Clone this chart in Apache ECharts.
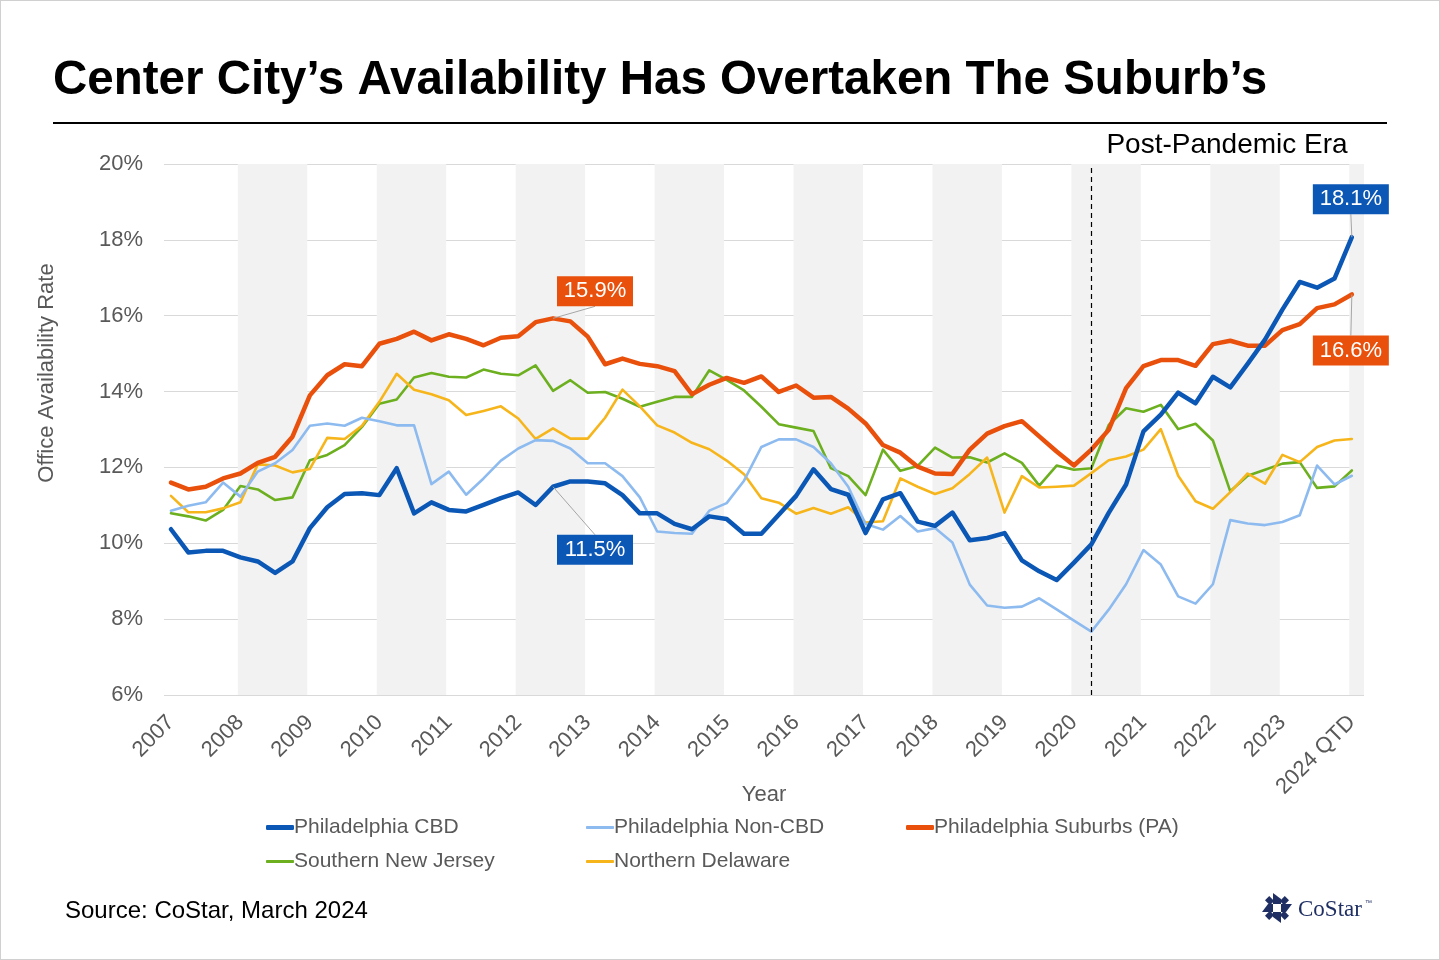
<!DOCTYPE html>
<html>
<head>
<meta charset="utf-8">
<script src="https://cdn.jsdelivr.net/npm/echarts@6/dist/echarts.min.js"></script>
<style>
html,body{margin:0;padding:0;background:#fff;}
#c{width:1440px;height:960px;box-sizing:border-box;border:1px solid #d0d0d0;}
</style>
</head>
<body>
<div id="c"></div>
<script>
// ---- Tick labels (one per year, quarterly data underneath) ----
const yearLabels = ['2007','2008','2009','2010','2011','2012','2013','2014','2015','2016','2017','2018','2019','2020','2021','2022','2023','2024 QTD'];

// ---- Series (quarterly, 2007 Q1 .. 2024 Q1), % ----
const phillyCBD = [10.37,9.76,9.80,9.80,9.63,9.52,9.22,9.52,10.40,10.95,11.30,11.32,11.27,11.98,10.79,11.08,10.88,10.84,11.01,11.19,11.34,11.01,11.49,11.63,11.63,11.58,11.27,10.79,10.79,10.51,10.37,10.71,10.64,10.25,10.25,10.75,11.25,11.95,11.43,11.28,10.27,11.16,11.32,10.57,10.46,10.81,10.08,10.14,10.27,9.55,9.26,9.03,9.49,9.97,10.80,11.55,12.95,13.39,13.97,13.69,14.39,14.11,14.73,15.37,16.16,16.89,16.74,16.98,18.07];
const phillyNonCBD = [10.86,10.99,11.08,11.60,11.23,11.89,12.11,12.46,13.10,13.16,13.10,13.31,13.22,13.11,13.11,11.56,11.89,11.28,11.71,12.18,12.50,12.72,12.70,12.50,12.11,12.11,11.77,11.21,10.31,10.27,10.25,10.86,11.06,11.65,12.54,12.74,12.74,12.54,12.11,11.49,10.51,10.36,10.72,10.31,10.40,10.02,8.91,8.36,8.30,8.33,8.55,8.26,7.96,7.67,8.25,8.92,9.82,9.44,8.60,8.41,8.92,10.61,10.52,10.48,10.56,10.74,12.05,11.55,11.78];
const phillySuburbs = [11.60,11.42,11.49,11.71,11.84,12.12,12.28,12.81,13.90,14.43,14.72,14.67,15.26,15.39,15.58,15.35,15.51,15.39,15.22,15.42,15.46,15.83,15.93,15.85,15.45,14.72,14.87,14.73,14.67,14.54,13.93,14.18,14.36,14.23,14.40,13.99,14.16,13.84,13.86,13.55,13.16,12.59,12.39,12.02,11.84,11.83,12.47,12.89,13.09,13.22,12.82,12.42,12.05,12.47,12.99,14.09,14.67,14.83,14.83,14.68,15.25,15.34,15.21,15.21,15.62,15.78,16.20,16.30,16.56];
const southernNJ = [10.79,10.71,10.60,10.88,11.51,11.42,11.14,11.21,12.19,12.33,12.59,13.07,13.68,13.79,14.37,14.49,14.39,14.37,14.58,14.47,14.43,14.69,14.02,14.30,13.97,13.99,13.81,13.60,13.73,13.86,13.86,14.56,14.31,14.03,13.60,13.14,13.05,12.96,11.98,11.77,11.27,12.47,11.91,12.04,12.52,12.26,12.27,12.13,12.37,12.12,11.52,12.05,11.94,11.98,13.12,13.56,13.47,13.65,13.01,13.15,12.71,11.37,11.78,11.94,12.10,12.14,11.46,11.50,11.92];
const northernDE = [11.25,10.82,10.82,10.92,11.08,12.08,12.05,11.87,11.96,12.78,12.75,13.10,13.73,14.47,14.05,13.93,13.77,13.38,13.49,13.61,13.29,12.75,13.03,12.76,12.76,13.31,14.05,13.61,13.11,12.92,12.65,12.48,12.18,11.82,11.19,11.07,10.78,10.93,10.78,10.95,10.55,10.58,11.71,11.49,11.30,11.45,11.83,12.26,10.81,11.77,11.47,11.49,11.52,11.85,12.19,12.29,12.47,13.01,11.78,11.11,10.91,11.35,11.84,11.57,12.33,12.14,12.54,12.71,12.75];

const seriesNames = ['Philadelphia CBD','Philadelphia Non-CBD','Philadelphia Suburbs (PA)','Southern New Jersey','Northern Delaware'];
const pandemicQuarter = 53; // 2020 Q2

const FONT = '"Liberation Sans", Arial, Helvetica, sans-serif';
const GREY = '#595959';
const C_CBD = '#0B57B5', C_NON = '#8DBBF0', C_SUB = '#E8500C', C_NJ = '#6CAF1F', C_DE = '#F7B51C';

const pairs = arr => arr.map((v, i) => [i, v]);

// shaded alternate years (2008, 2010, ... 2024)
const bands = [];
yearLabels.forEach((y, k) => {
  if (k % 2 === 1) {
    bands.push([{ xAxis: 4 * k - 0.15 }, { xAxis: Math.min(4 * k + 3.85, 68.7) }]);
  }
});

const chart = echarts.init(document.getElementById('c'), null, { renderer: 'canvas' });

function lineSeries(name, data, color, width, z) {
  return {
    name, type: 'line', data: pairs(data), symbol: 'none', z,
    lineStyle: { color, width, join: 'round', cap: 'round' },
    itemStyle: { color }, emphasis: { disabled: true }
  };
}

function legendItem(name, left, top, thick) {
  return {
    data: [name], left, top, itemWidth: 28, itemHeight: thick, itemGap: 0,
    icon: 'roundRect',
    selectedMode: false, padding: 0,
    textStyle: { fontSize: 21, color: GREY, fontFamily: FONT, padding: [0, 0, 0, -5] }
  };
}

chart.setOption({
  animation: false,
  textStyle: { fontFamily: FONT },
  grid: { left: 163, right: 75, top: 163, bottom: 264, containLabel: false },
  legend: [
    legendItem(seriesNames[0], 265, 816, 5),
    legendItem(seriesNames[1], 585, 816, 3),
    legendItem(seriesNames[2], 905, 816, 5),
    legendItem(seriesNames[3], 265, 850, 3),
    legendItem(seriesNames[4], 585, 850, 3)
  ],
  xAxis: {
    type: 'value', min: -0.4, max: 68.7,
    axisLine: { show: false }, axisTick: { show: false }, splitLine: { show: false },
    axisLabel: {
      customValues: yearLabels.map((_, k) => 4 * k),
      formatter: v => yearLabels[Math.round(v / 4)] || '',
      rotate: 45, fontSize: 22, color: GREY, margin: 24, fontFamily: FONT
    }
  },
  yAxis: {
    type: 'value', min: 6, max: 20, interval: 2,
    axisLine: { show: false }, axisTick: { show: false },
    splitLine: { lineStyle: { color: '#d9d9d9', width: 1 } },
    axisLabel: { formatter: '{value}%', fontSize: 22, color: GREY, margin: 21, fontFamily: FONT }
  },
  series: [
    {
      name: '_bands', type: 'line', data: [], z: 1, silent: true,
      markArea: { silent: true, itemStyle: { color: '#f2f2f2' }, data: bands },
      markLine: {
        silent: true, symbol: ['none', 'none'], label: { show: false },
        lineStyle: { type: [5, 4], color: '#000', width: 1.2 },
        data: [{ xAxis: pandemicQuarter }]
      }
    },
    lineSeries(seriesNames[3], southernNJ, C_NJ, 2.6, 3),
    lineSeries(seriesNames[4], northernDE, C_DE, 2.6, 3),
    lineSeries(seriesNames[1], phillyNonCBD, C_NON, 2.6, 3),
    lineSeries(seriesNames[2], phillySuburbs, C_SUB, 4.5, 4),
    lineSeries(seriesNames[0], phillyCBD, C_CBD, 4.5, 5)
  ]
});

// ---- callouts placed from data coordinates ----
function callout(idx, values, color, dx, dy) {
  const v = values[idx];
  const p = chart.convertToPixel({ gridIndex: 0 }, [idx, v]);
  const w = 76, h = 30;
  const cx = p[0] + dx, cy = p[1] + dy;
  const endY = dy < 0 ? cy + h / 2 : cy - h / 2;
  return [
    { type: 'line', z: 20, silent: true,
      shape: { x1: p[0], y1: p[1], x2: cx, y2: endY },
      style: { stroke: '#a6a6a6', lineWidth: 1 } },
    { type: 'rect', z: 21, silent: true,
      shape: { x: cx - w / 2, y: cy - h / 2, width: w, height: h },
      style: { fill: color } },
    { type: 'text', z: 22, silent: true, x: cx, y: cy,
      style: { text: v.toFixed(1) + '%', fill: '#fff', font: '22px ' + FONT, align: 'center', verticalAlign: 'middle' } }
  ];
}

const last = phillyCBD.length - 1;
const peakIdx = 22;
const elements = [].concat(
  callout(peakIdx, phillySuburbs, C_SUB, 42, -27),
  callout(peakIdx, phillyCBD, C_CBD, 42, 63),
  callout(last, phillyCBD, C_CBD, -1, -38),
  callout(last, phillySuburbs, C_SUB, -1, 56)
);

// titles, rule, notes, logo
elements.push(
  { type: 'text', left: 52, top: 56, z: 30,
    style: { text: 'Center City\u2019s Availability Has Overtaken The Suburb\u2019s', fill: '#000', font: 'bold 47.5px ' + FONT } },
  { type: 'line', z: 30, shape: { x1: 52, y1: 122, x2: 1386, y2: 122 }, style: { stroke: '#000', lineWidth: 2 } },
  { type: 'text', z: 30, x: 1226, y: 144,
    style: { text: 'Post-Pandemic Era', fill: '#000', font: '28px ' + FONT, align: 'center', verticalAlign: 'middle' } },
  { type: 'text', z: 30, x: 46, y: 372, rotation: Math.PI / 2,
    style: { text: 'Office Availability Rate', fill: GREY, font: '22px ' + FONT, align: 'center', verticalAlign: 'middle' } },
  { type: 'text', z: 30, x: 763, y: 794,
    style: { text: 'Year', fill: GREY, font: '22px ' + FONT, align: 'center', verticalAlign: 'middle' } },
  { type: 'text', z: 30, x: 64, y: 910,
    style: { text: 'Source: CoStar, March 2024', fill: '#000', font: '24px ' + FONT, verticalAlign: 'middle' } }
);

// CoStar logo (approximation)
const LOGO = '#1f2f63';
const lx = 1276, ly = 907;
const logo = { type: 'group', x: lx, y: ly, z: 30, children: [] };
for (let k = 0; k < 4; k++) {
  logo.children.push({
    type: 'polygon', rotation: -k * Math.PI / 2,
    shape: { points: [[-4, -15], [4, -9], [4, -4], [-4, -4]] },
    style: { fill: LOGO }
  });
  logo.children.push({
    type: 'polygon', rotation: -k * Math.PI / 2 - Math.PI / 4,
    shape: { points: [[-3, -14], [3, -14], [3, -7], [-3, -7]] },
    style: { fill: LOGO }
  });
}
elements.push(logo);
elements.push(
  { type: 'text', z: 30, x: 1297, y: 909,
    style: { text: 'CoStar', fill: LOGO, font: '23px "Liberation Serif", "Times New Roman", serif', verticalAlign: 'middle' } },
  { type: 'text', z: 30, x: 1364, y: 902,
    style: { text: '\u2122', fill: LOGO, font: '7px ' + FONT, verticalAlign: 'middle' } }
);

chart.setOption({ graphic: { elements } });
</script>
</body>
</html>
